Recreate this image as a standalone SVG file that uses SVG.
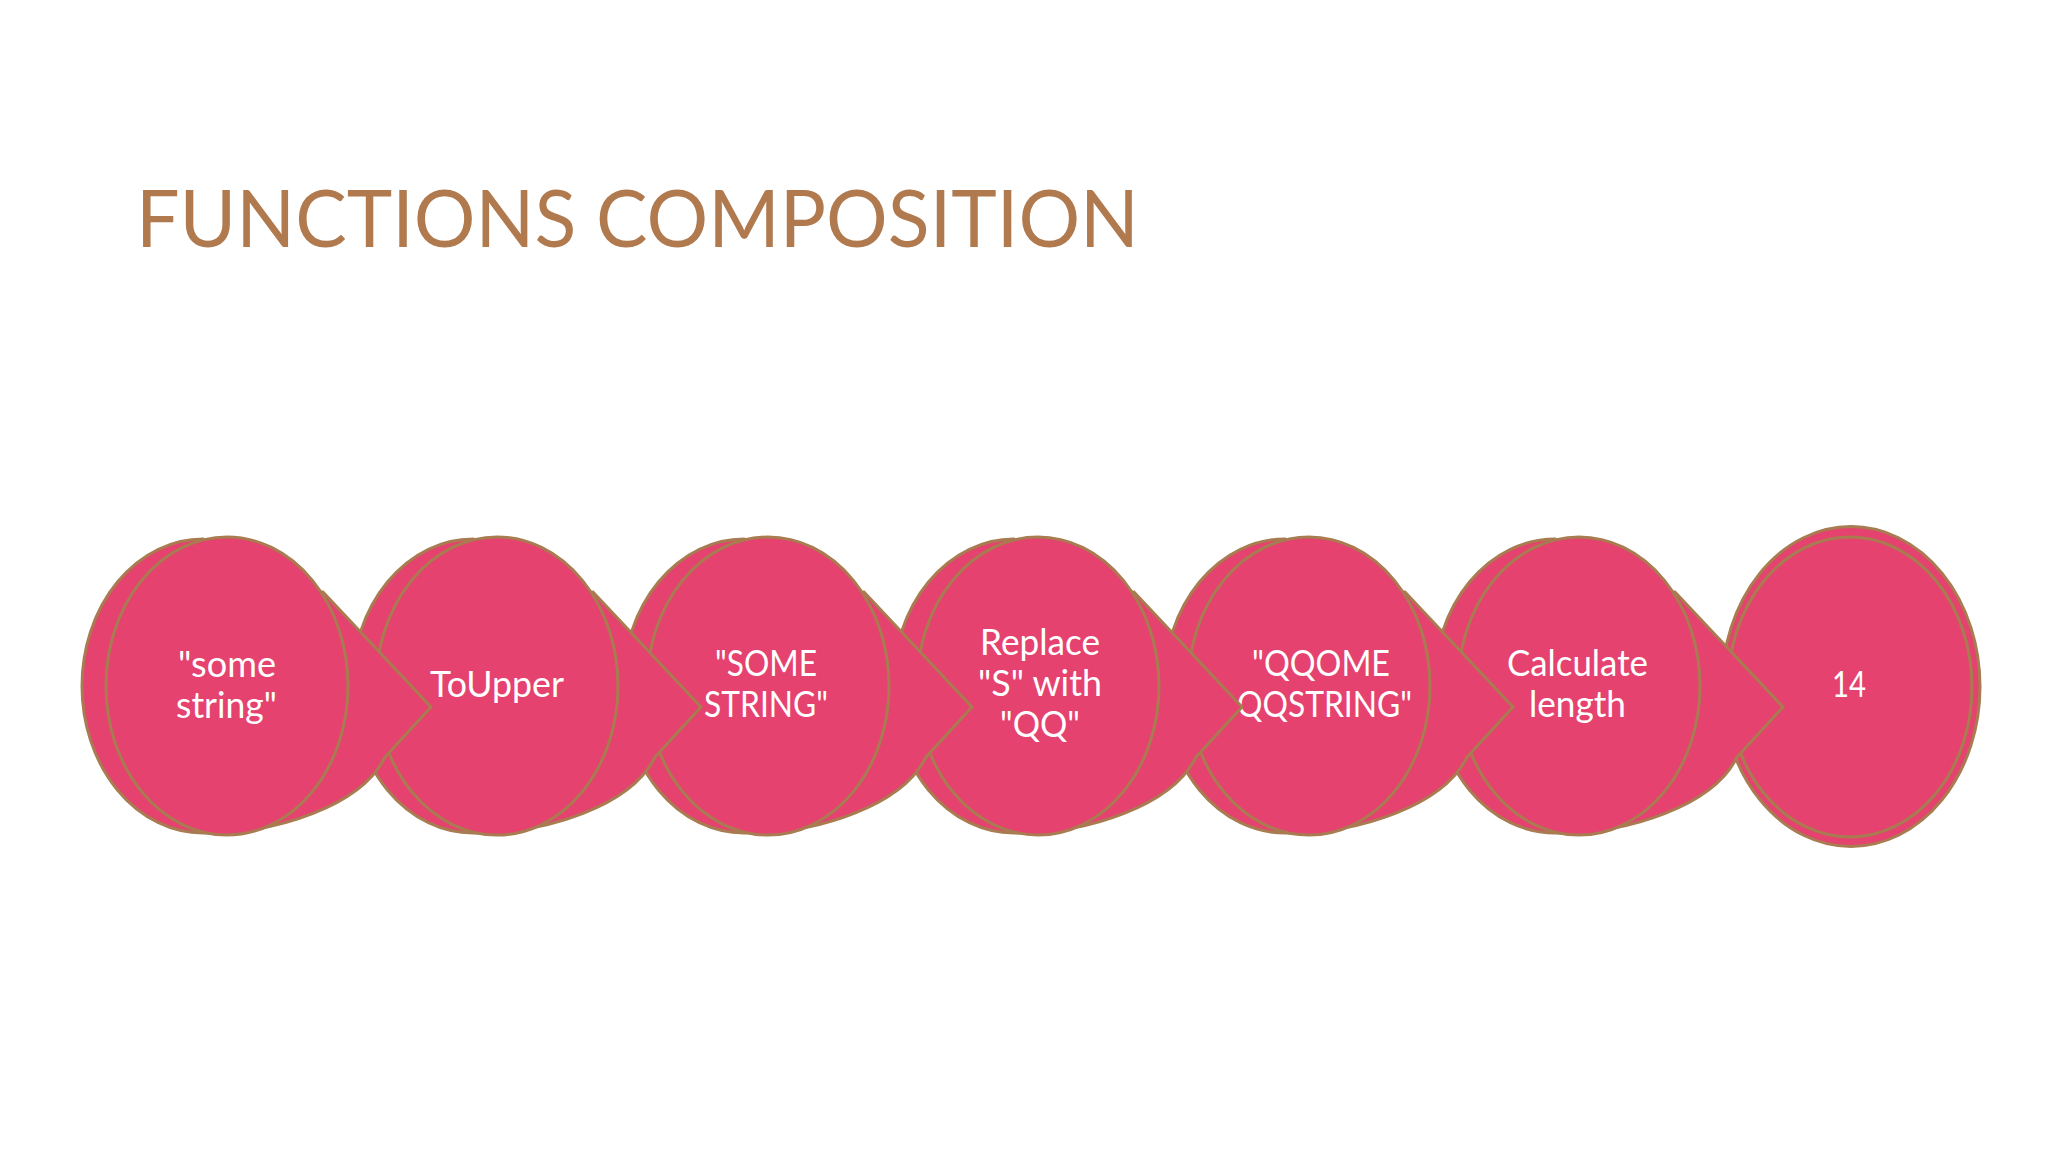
<svg xmlns="http://www.w3.org/2000/svg" width="2048" height="1152" viewBox="0 0 2048 1152">
  <defs>
    <style>
      .shape { fill: #E5426F; stroke: #A97B50; stroke-width: 3; stroke-linejoin: miter; }
      .lbl { fill: #FFFFFF; font-family: Lato, "Open Sans", "Liberation Sans", sans-serif; font-size: 36px; text-anchor: middle; }
      .title { fill: #B07A4E; font-family: Lato, "Noto Sans", "Liberation Sans", sans-serif; font-size: 80px; }
    </style>
    <path id="backShape" d="M -24,539 A 121 147 0 0 0 -24,833 C 50,834 135,805 158,757 L 204,707 L 96,592 L 20,600 Z"/>
  </defs>
  <rect x="0" y="0" width="2048" height="1152" fill="#FFFFFF"/>
  <text class="title" x="136" y="247" textLength="1003" lengthAdjust="spacingAndGlyphs">FUNCTIONS COMPOSITION</text>

  <g id="connectors"></g>

  <g id="node7">
    <ellipse class="shape" cx="1851" cy="686.5" rx="129" ry="160"/>
    <ellipse class="shape" cx="1850" cy="687" rx="122" ry="150"/>
    <text class="lbl" x="1849" y="697" textLength="34" lengthAdjust="spacingAndGlyphs">14</text>
  </g>

  <g id="node6">
    <use href="#backShape" class="shape" transform="translate(1579,0)"/>
    <ellipse class="shape" cx="1579" cy="686" rx="121" ry="149"/>
    <text class="lbl" x="1577.5" y="676" textLength="141" lengthAdjust="spacingAndGlyphs">Calculate</text>
    <text class="lbl" x="1577.5" y="717" textLength="97" lengthAdjust="spacingAndGlyphs">length</text>
  </g>

  <g id="node5">
    <use href="#backShape" class="shape" transform="translate(1309,0)"/>
    <ellipse class="shape" cx="1309" cy="686" rx="121" ry="149"/>
    <text class="lbl" x="1321" y="676" textLength="138" lengthAdjust="spacingAndGlyphs">"QQOME</text>
    <text class="lbl" x="1324.5" y="717" textLength="175" lengthAdjust="spacingAndGlyphs">QQSTRING"</text>
  </g>

  <g id="node4">
    <use href="#backShape" class="shape" transform="translate(1038,0)"/>
    <ellipse class="shape" cx="1038" cy="686" rx="121" ry="149"/>
    <text class="lbl" x="1040" y="655" textLength="120" lengthAdjust="spacingAndGlyphs">Replace</text>
    <text class="lbl" x="1040" y="696" textLength="124" lengthAdjust="spacingAndGlyphs">"S" with</text>
    <text class="lbl" x="1040" y="737" textLength="80" lengthAdjust="spacingAndGlyphs">"QQ"</text>
  </g>

  <g id="node3">
    <use href="#backShape" class="shape" transform="translate(768,0)"/>
    <ellipse class="shape" cx="768" cy="686" rx="121" ry="149"/>
    <text class="lbl" x="766" y="676" textLength="102" lengthAdjust="spacingAndGlyphs">"SOME</text>
    <text class="lbl" x="766" y="717" textLength="124" lengthAdjust="spacingAndGlyphs">STRING"</text>
  </g>

  <g id="node2">
    <use href="#backShape" class="shape" transform="translate(497,0)"/>
    <ellipse class="shape" cx="497" cy="686" rx="121" ry="149"/>
    <text class="lbl" x="497" y="697" textLength="134" lengthAdjust="spacingAndGlyphs">ToUpper</text>
  </g>

  <g id="node1">
    <use href="#backShape" class="shape" transform="translate(227,0)"/>
    <ellipse class="shape" cx="227" cy="686" rx="121" ry="149"/>
    <text class="lbl" x="227" y="677" textLength="98" lengthAdjust="spacingAndGlyphs">"some</text>
    <text class="lbl" x="226.5" y="718" textLength="101" lengthAdjust="spacingAndGlyphs">string"</text>
  </g>
</svg>
